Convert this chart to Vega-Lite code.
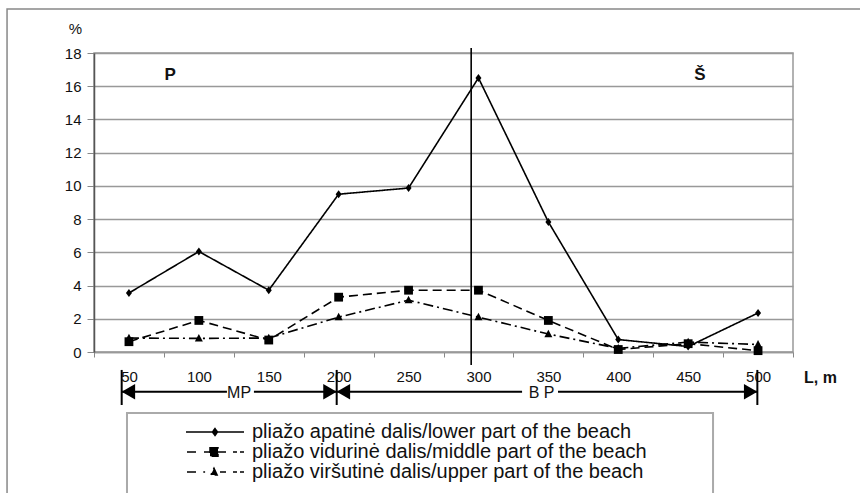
{
  "$schema": "https://vega.github.io/schema/vega-lite/v6.json",
  "width": 699,
  "height": 299,
  "autosize": "none",
  "padding": {"left": 94, "top": 53, "right": 67, "bottom": 141},
  "background": "white",
  "config": {
    "font": "Liberation Sans",
    "view": {"stroke": "#999999", "strokeWidth": 1.5},
    "axisX": {
      "labelFont": "Liberation Sans", "labelFontSize": 15, "labelColor": "#111",
      "labelPadding": 12, "tickSize": 5, "tickColor": "#888888",
      "domainColor": "#999999", "domainWidth": 1.5, "grid": false,
      "titleFont": "Liberation Sans", "titleFontSize": 16, "titleFontWeight": "bold", "titleColor": "#111"
    },
    "axisY": {
      "labelFont": "Liberation Sans", "labelFontSize": 15, "labelColor": "#111",
      "labelPadding": 6, "tickSize": 7, "tickColor": "#888888",
      "domainColor": "#555555", "domainWidth": 1.5,
      "grid": true, "gridColor": "#999999", "gridWidth": 1.3,
      "titleFont": "Liberation Sans", "titleFontSize": 15, "titleFontWeight": "normal", "titleColor": "#111"
    },
    "legend": {"labelFont": "Liberation Sans", "labelFontSize": 20, "labelColor": "#111"}
  },
  "datasets": {
    "series": [
      {"L": 50, "p": 3.55, "s": "pliažo apatinė dalis/lower part of the beach"},
      {"L": 100, "p": 6.05, "s": "pliažo apatinė dalis/lower part of the beach"},
      {"L": 150, "p": 3.72, "s": "pliažo apatinė dalis/lower part of the beach"},
      {"L": 200, "p": 9.5, "s": "pliažo apatinė dalis/lower part of the beach"},
      {"L": 250, "p": 9.87, "s": "pliažo apatinė dalis/lower part of the beach"},
      {"L": 300, "p": 16.5, "s": "pliažo apatinė dalis/lower part of the beach"},
      {"L": 350, "p": 7.83, "s": "pliažo apatinė dalis/lower part of the beach"},
      {"L": 400, "p": 0.75, "s": "pliažo apatinė dalis/lower part of the beach"},
      {"L": 450, "p": 0.33, "s": "pliažo apatinė dalis/lower part of the beach"},
      {"L": 500, "p": 2.35, "s": "pliažo apatinė dalis/lower part of the beach"},
      {"L": 50, "p": 0.62, "s": "pliažo vidurinė dalis/middle part of the beach"},
      {"L": 100, "p": 1.9, "s": "pliažo vidurinė dalis/middle part of the beach"},
      {"L": 150, "p": 0.72, "s": "pliažo vidurinė dalis/middle part of the beach"},
      {"L": 200, "p": 3.3, "s": "pliažo vidurinė dalis/middle part of the beach"},
      {"L": 250, "p": 3.72, "s": "pliažo vidurinė dalis/middle part of the beach"},
      {"L": 300, "p": 3.72, "s": "pliažo vidurinė dalis/middle part of the beach"},
      {"L": 350, "p": 1.9, "s": "pliažo vidurinė dalis/middle part of the beach"},
      {"L": 400, "p": 0.15, "s": "pliažo vidurinė dalis/middle part of the beach"},
      {"L": 450, "p": 0.5, "s": "pliažo vidurinė dalis/middle part of the beach"},
      {"L": 500, "p": 0.08, "s": "pliažo vidurinė dalis/middle part of the beach"},
      {"L": 50, "p": 0.84, "s": "pliažo viršutinė dalis/upper part of the beach"},
      {"L": 100, "p": 0.82, "s": "pliažo viršutinė dalis/upper part of the beach"},
      {"L": 150, "p": 0.84, "s": "pliažo viršutinė dalis/upper part of the beach"},
      {"L": 200, "p": 2.1, "s": "pliažo viršutinė dalis/upper part of the beach"},
      {"L": 250, "p": 3.12, "s": "pliažo viršutinė dalis/upper part of the beach"},
      {"L": 300, "p": 2.1, "s": "pliažo viršutinė dalis/upper part of the beach"},
      {"L": 350, "p": 1.08, "s": "pliažo viršutinė dalis/upper part of the beach"},
      {"L": 400, "p": 0.22, "s": "pliažo viršutinė dalis/upper part of the beach"},
      {"L": 450, "p": 0.6, "s": "pliažo viršutinė dalis/upper part of the beach"},
      {"L": 500, "p": 0.45, "s": "pliažo viršutinė dalis/upper part of the beach"}
    ],
    "zones": [
      {"a": 44.8, "b": 120.1},
      {"a": 139.4, "b": 198.6},
      {"a": 198.6, "b": 331.2},
      {"a": 356.9, "b": 499.5}
    ],
    "zoneTicks": [{"a": 44.8}, {"a": 198.6}, {"a": 499.5}],
    "headsLeft": [{"a": 49.6}, {"a": 203.4}],
    "headsRight": [{"a": 193.8}, {"a": 494.7}],
    "zoneLabels": [{"a": 128.8, "t": "MP"}, {"a": 345.2, "t": "B P"}],
    "sides": [{"a": 79.4, "t": "P"}, {"a": 458.5, "t": "Š"}]
  },
  "layer": [
    {
      "data": {"name": "series"},
      "mark": {"type": "line", "color": "black", "strokeWidth": 1.6, "clip": false},
      "encoding": {
        "x": {
          "field": "L", "type": "quantitative",
          "scale": {"domain": [25, 525], "nice": false, "zero": false},
          "axis": {
            "values": [25, 75, 125, 175, 225, 275, 325, 375, 425, 475, 525],
            "labelExpr": "datum.value < 500 ? format(datum.value + 25, 'd') : ''",
            "labelOffset": 35,
            "labelFlush": false,
            "labelAlign": "center",
            "title": "L, m",
            "titleX": 726,
            "titleY": 25,
            "titleAlign": "center",
            "titleBaseline": "middle"
          }
        },
        "y": {
          "field": "p", "type": "quantitative",
          "scale": {"domain": [0, 18], "nice": false},
          "axis": {
            "values": [0, 2, 4, 6, 8, 10, 12, 14, 16, 18],
            "tickCount": 10,
            "labelOverlap": false,
            "title": "%",
            "titleAngle": 0,
            "titleX": -19,
            "titleY": -25,
            "titleAlign": "center",
            "titleBaseline": "middle"
          }
        },
        "strokeDash": {
          "field": "s", "type": "nominal",
          "scale": {
            "domain": ["pliažo apatinė dalis/lower part of the beach", "pliažo vidurinė dalis/middle part of the beach", "pliažo viršutinė dalis/upper part of the beach"],
            "range": [[1, 0], [9, 5], [10, 4, 2, 4]]
          },
          "legend": {
            "orient": "none",
            "legendX": 111,
            "legendY": 369,
            "title": null,
            "padding": 0,
            "rowPadding": -4,
            "symbolType": "stroke",
            "symbolSize": 100,
            "symbolStrokeColor": "black",
            "symbolStrokeWidth": 1.5,
            "labelOffset": 27,
            "labelLimit": 700,
            "encode": {
              "symbols": {
                "update": {
                  "shape": {"signal": "indexof(datum.label, 'apatin') >= 0 ? 'M-5.8,0L5.8,0M0,-0.7L0.5,0L0,0.7L-0.5,0Z' : (indexof(datum.label, 'vidurin') >= 0 ? 'M-5.6,0L-3.8,0M-2.2,0L-1,0M-1,-0.86L0.6,-0.86L0.6,0.86L-1,0.86ZM0.6,0L2.2,0M3.6,0L4.4,0M5,0L5.8,0' : 'M-5.6,0L-3.8,0M-2.34,0L-1.98,0M-0.2,-0.76L0.43,0.6L-0.83,0.6ZM1,0L2.2,0M3.6,0L4.4,0M5,0L5.8,0')"},
                  "fill": {"value": "black"},
                  "stroke": {"value": "black"},
                  "strokeDash": {"value": [1, 0]},
                  "strokeWidth": {"value": 1.5},
                  "opacity": {"value": 1}
                }
              }
            }
          }
        }
      }
    },
    {
      "data": {"name": "series"},
      "transform": [{"filter": {"field": "s", "equal": "pliažo apatinė dalis/lower part of the beach"}}],
      "mark": {"type": "point", "shape": "M0,-1L0.75,0L0,1L-0.75,0Z", "filled": true, "color": "black", "opacity": 1, "size": 64, "clip": false},
      "encoding": {
        "x": {"field": "L", "type": "quantitative"},
        "y": {"field": "p", "type": "quantitative"}
      }
    },
    {
      "data": {"name": "series"},
      "transform": [{"filter": {"field": "s", "equal": "pliažo vidurinė dalis/middle part of the beach"}}],
      "mark": {"type": "point", "shape": "M-1.1,-1.1L1.1,-1.1L1.1,1.1L-1.1,1.1Z", "filled": true, "color": "black", "opacity": 1, "size": 64, "clip": false},
      "encoding": {
        "x": {"field": "L", "type": "quantitative"},
        "y": {"field": "p", "type": "quantitative"}
      }
    },
    {
      "data": {"name": "series"},
      "transform": [{"filter": {"field": "s", "equal": "pliažo viršutinė dalis/upper part of the beach"}}],
      "mark": {"type": "point", "shape": "M0,-1.1L1,0.8L-1,0.8Z", "filled": true, "color": "black", "opacity": 1, "size": 64, "clip": false},
      "encoding": {
        "x": {"field": "L", "type": "quantitative"},
        "y": {"field": "p", "type": "quantitative"}
      }
    },
    {
      "data": {"values": [{"k": 1}]},
      "mark": {"type": "rect", "fill": null, "stroke": "#888888", "strokeWidth": 1.5, "clip": false},
      "encoding": {
        "x": {"datum": -37.2, "type": "quantitative"},
        "x2": {"datum": 590},
        "y": {"datum": 20.65, "type": "quantitative"},
        "y2": {"datum": -12}
      }
    },
    {
      "data": {"values": [{"k": 1}]},
      "mark": {"type": "rect", "fill": null, "stroke": "#aaaaaa", "strokeWidth": 2, "clip": false},
      "encoding": {
        "x": {"datum": 48.6, "type": "quantitative"},
        "x2": {"datum": 467.8},
        "y": {"datum": -3.67, "type": "quantitative"},
        "y2": {"datum": -12}
      }
    },
    {
      "data": {"values": [{"k": 1}]},
      "mark": {"type": "rule", "color": "black", "strokeWidth": 1.6, "clip": false},
      "encoding": {
        "x": {"datum": 294.8, "type": "quantitative"},
        "y": {"datum": 18.3, "type": "quantitative"},
        "y2": {"datum": -0.78}
      }
    },
    {
      "data": {"name": "zones"},
      "mark": {"type": "rule", "color": "black", "strokeWidth": 2, "clip": false},
      "encoding": {
        "x": {"field": "a", "type": "quantitative"},
        "x2": {"field": "b"},
        "y": {"datum": -2.39, "type": "quantitative"}
      }
    },
    {
      "data": {"name": "zoneTicks"},
      "mark": {"type": "rule", "color": "black", "strokeWidth": 2, "clip": false},
      "encoding": {
        "x": {"field": "a", "type": "quantitative"},
        "y": {"datum": -1.08, "type": "quantitative"},
        "y2": {"datum": -3.19}
      }
    },
    {
      "data": {"name": "headsLeft"},
      "mark": {"type": "point", "shape": "triangle-left", "filled": true, "color": "black", "opacity": 1, "size": 240, "clip": false},
      "encoding": {
        "x": {"field": "a", "type": "quantitative"},
        "y": {"datum": -2.39, "type": "quantitative"}
      }
    },
    {
      "data": {"name": "headsRight"},
      "mark": {"type": "point", "shape": "triangle-right", "filled": true, "color": "black", "opacity": 1, "size": 240, "clip": false},
      "encoding": {
        "x": {"field": "a", "type": "quantitative"},
        "y": {"datum": -2.39, "type": "quantitative"}
      }
    },
    {
      "data": {"name": "zoneLabels"},
      "mark": {"type": "text", "fontSize": 16, "color": "#111", "baseline": "middle", "align": "center", "clip": false},
      "encoding": {
        "x": {"field": "a", "type": "quantitative"},
        "y": {"datum": -2.45, "type": "quantitative"},
        "text": {"field": "t"}
      }
    },
    {
      "data": {"name": "sides"},
      "mark": {"type": "text", "fontSize": 17, "fontWeight": "bold", "color": "#111", "baseline": "middle", "align": "center", "clip": false},
      "encoding": {
        "x": {"field": "a", "type": "quantitative"},
        "y": {"datum": 16.68, "type": "quantitative"},
        "text": {"field": "t"}
      }
    }
  ]
}
